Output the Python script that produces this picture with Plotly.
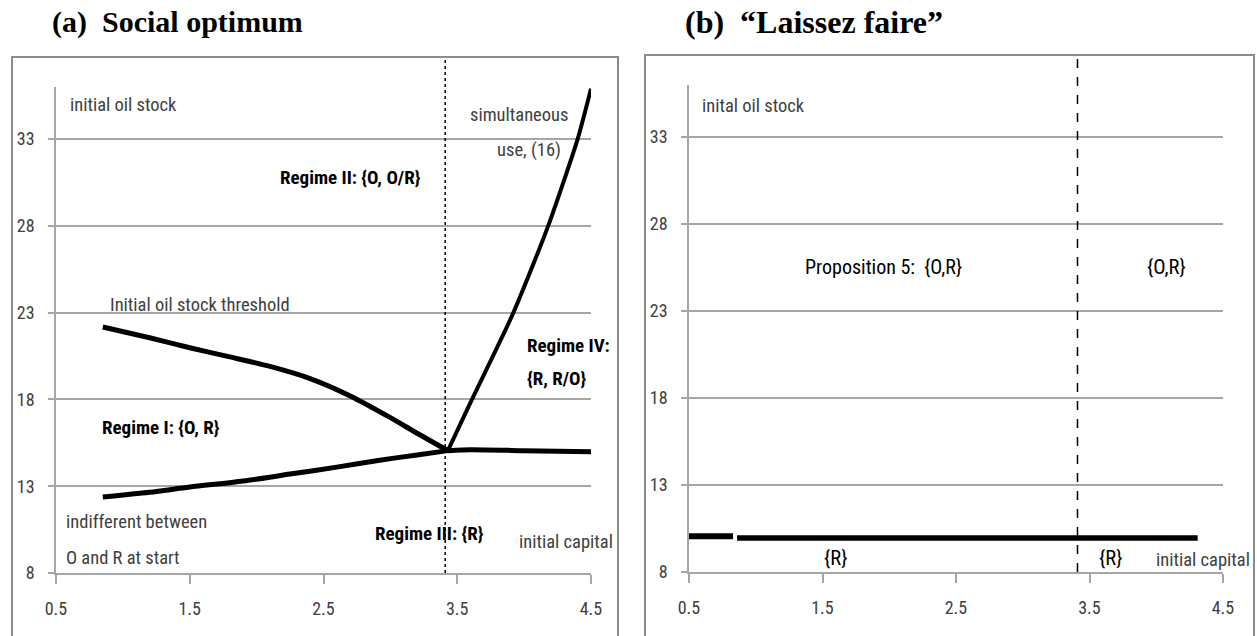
import plotly.graph_objects as go

W, H = 1257, 636

# ---- panel (a): social optimum ----
threshold_x = [0.85, 1.2, 1.5, 1.8, 2.1, 2.4, 2.7, 3.0, 3.2, 3.43]
threshold_y = [22.17, 21.55, 20.98, 20.45, 19.9, 19.2, 18.2, 16.95, 16.05, 15.05]

indiff_x = [0.85, 1.2, 1.5, 1.9, 2.25, 2.6, 2.92, 3.2, 3.43]
indiff_y = [12.38, 12.65, 12.95, 13.3, 13.7, 14.1, 14.5, 14.8, 15.05]

flat_x = [3.43, 3.6, 4.0, 4.5]
flat_y = [15.05, 15.1, 15.05, 14.98]

simul_x = [3.43, 3.61, 3.92, 4.18, 4.40, 4.5]
simul_y = [15.05, 18.0, 23.0, 28.0, 33.0, 35.9]

capital_split = 3.41

# ---- panel (b): laissez faire ----
lf_seg1_x = [0.5, 0.83]
lf_seg1_y = [10.05, 10.05]
lf_seg2_x = [0.86, 4.31]
lf_seg2_y = [9.95, 9.95]

x_ticks = [0.5, 1.5, 2.5, 3.5, 4.5]
x_tick_labels = ["0.5", "1.5", "2.5", "3.5", "4.5"]
y_ticks = [8, 13, 18, 23, 28, 33]
y_tick_labels = ["8", "13", "18", "23", "28", "33"]

FONT = ("Roboto Condensed, Noto Sans Condensed, Noto Sans ExtraCondensed, "
        "DejaVu Sans Condensed, sans-serif")
TITLE_FONT = "Liberation Serif, Times New Roman, serif"
GRID = "#a6a6a6"
TXT = "#404040"


def px_x(p):
    return p / W


def px_y(p):
    return 1 - p / H


fig = go.Figure()

line_style = dict(color="black", width=5)
fig.add_trace(go.Scatter(x=threshold_x, y=threshold_y, mode="lines",
                         line=dict(shape="spline", smoothing=0.8, **line_style),
                         xaxis="x", yaxis="y", hoverinfo="skip"))
fig.add_trace(go.Scatter(x=indiff_x, y=indiff_y, mode="lines",
                         line=dict(shape="spline", smoothing=0.8, **line_style),
                         xaxis="x", yaxis="y", hoverinfo="skip"))
fig.add_trace(go.Scatter(x=flat_x, y=flat_y, mode="lines",
                         line=dict(shape="spline", smoothing=0.6, **line_style),
                         xaxis="x", yaxis="y", hoverinfo="skip"))
fig.add_trace(go.Scatter(x=simul_x, y=simul_y, mode="lines",
                         line=dict(shape="spline", smoothing=0.6, color="black", width=4),
                         xaxis="x", yaxis="y", hoverinfo="skip"))

fig.add_trace(go.Scatter(x=lf_seg1_x, y=lf_seg1_y, mode="lines",
                         line=dict(color="black", width=6),
                         xaxis="x2", yaxis="y2", hoverinfo="skip"))
fig.add_trace(go.Scatter(x=lf_seg2_x, y=lf_seg2_y, mode="lines",
                         line=dict(color="black", width=5.5),
                         xaxis="x2", yaxis="y2", hoverinfo="skip"))

axis_common = dict(
    showline=True, linecolor=GRID, linewidth=1.5,
    ticks="outside", tickcolor=GRID, tickwidth=1.5,
    tickfont=dict(family=FONT, size=18, color=TXT),
    zeroline=False, fixedrange=True, automargin=False,
)
xaxis_common = dict(axis_common, range=[0.5, 4.5], tickvals=x_ticks,
                    ticktext=x_tick_labels, ticklen=9, showgrid=False,
                    ticklabelstandoff=10)
yaxis_common = dict(axis_common, range=[8, 36], tickvals=y_ticks,
                    ticktext=y_tick_labels, ticklen=6, showgrid=True,
                    gridcolor=GRID, gridwidth=1.5, ticklabelstandoff=10)

fig.update_layout(
    width=W, height=H,
    margin=dict(l=0, r=0, t=0, b=0, autoexpand=False),
    paper_bgcolor="white", plot_bgcolor="white",
    showlegend=False,
    xaxis=dict(xaxis_common, domain=[px_x(56), px_x(591)], anchor="y"),
    yaxis=dict(yaxis_common, domain=[px_y(573), px_y(87)], anchor="x"),
    xaxis2=dict(xaxis_common, domain=[px_x(689), px_x(1223)], anchor="y2"),
    yaxis2=dict(yaxis_common, domain=[px_y(572), px_y(85)], anchor="x2"),
)

# panel frames
fig.add_shape(type="rect", xref="paper", yref="paper",
              x0=px_x(12), x1=px_x(618), y0=px_y(660), y1=px_y(57),
              line=dict(color="#8c8c8c", width=2), layer="below")
fig.add_shape(type="rect", xref="paper", yref="paper",
              x0=px_x(645), x1=px_x(1254), y0=px_y(660), y1=px_y(55),
              line=dict(color="#8c8c8c", width=2), layer="below")

# capital threshold separating the regimes
fig.add_shape(type="line", xref="x", yref="paper",
              x0=capital_split, x1=capital_split, y0=px_y(573), y1=px_y(58),
              line=dict(color="black", width=1.5, dash="dot"))
fig.add_shape(type="line", xref="x2", yref="paper",
              x0=capital_split, x1=capital_split, y0=px_y(572), y1=px_y(56),
              line=dict(color="black", width=1.5, dash="dash"))


def label(text, x, y, ref="", anchor="left", bold=False, color=TXT, size=18.5,
          xref=None):
    fig.add_annotation(
        text=f"<b>{text}</b>" if bold else text,
        x=x, y=y, xref=xref or ("x" + ref), yref="y" + ref,
        xanchor=anchor, yanchor="middle", showarrow=False,
        font=dict(family=FONT, size=size, color=color),
    )


BOLD = 19
label("initial oil stock", 0.59, 34.96)
label("Regime II: {O, O/R}", 2.16, 30.81, bold=True, color="black", size=BOLD)
label("simultaneous", 4.343, 34.38, anchor="right")
label("use, (16)", 4.29, 32.37, anchor="right")
label("Initial oil stock threshold", 0.889, 23.44)
label("Regime IV:", 4.007, 21.13, bold=True, color="black", size=BOLD)
label("{R, R/O}", 4.007, 19.23, bold=True, color="black", size=BOLD)
label("Regime I: {O, R}", 0.829, 16.41, bold=True, color="black", size=BOLD)
label("indifferent between", 0.56, 10.94)
label("O and R at start", 0.56, 8.86)
label("Regime III: {R}", 2.87, 10.30, bold=True, color="black", size=BOLD)
# axis titles sit past the last tick, so they are placed in paper space
label("initial capital", px_x(615), 9.79, anchor="right", xref="paper")

label("inital oil stock", 0.582, 34.79, ref="2")
label("Proposition 5:\u00a0\u00a0{O,R}", 1.354, 25.51, ref="2", color="black", size=20)
label("{O,R}", 3.916, 25.51, ref="2", color="black", size=20.5)
label("{R}", 1.496, 8.81, ref="2", color="black", size=20.5)
label("{R}", 3.556, 8.81, ref="2", color="black", size=20.5)
label("initial capital", px_x(1252), 8.69, ref="2", anchor="right", xref="paper")

for text, x0, size in [("(a)\u00a0\u00a0Social optimum", 50, 30),
                       ("(b)\u00a0\u00a0\u201cLaissez faire\u201d", 683, 32)]:
    fig.add_annotation(text=f"<b>{text}</b>", xref="paper", yref="paper",
                       x=px_x(x0), y=px_y(22), xanchor="left", yanchor="middle",
                       showarrow=False,
                       font=dict(family=TITLE_FONT, size=size, color="black"))

fig.write_html("out.html")
